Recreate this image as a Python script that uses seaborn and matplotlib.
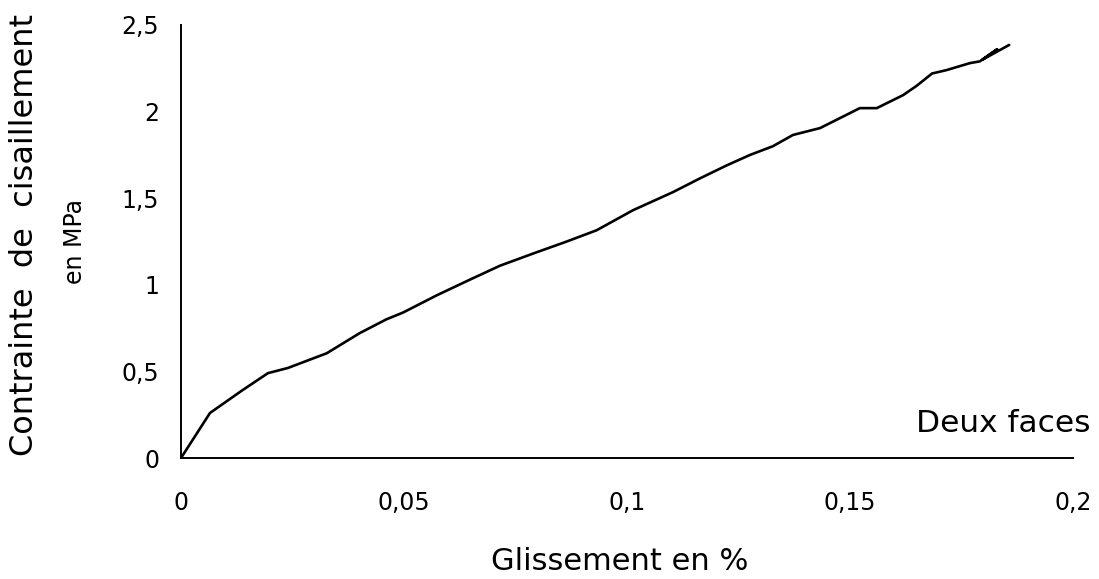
import matplotlib
matplotlib.use("Agg")
import matplotlib.pyplot as plt
import seaborn as sns
import pandas as pd

# Data
glissement = [0.0, 0.0065, 0.0137, 0.0195, 0.024, 0.0327, 0.040, 0.046, 0.0498,
              0.0574, 0.0648, 0.0715, 0.0789, 0.0865, 0.0932, 0.1013, 0.1103,
              0.1164, 0.1224, 0.1276, 0.1327, 0.1372, 0.1433, 0.1522, 0.156,
              0.1619, 0.165, 0.1684, 0.1717, 0.1769, 0.1791, 0.1830, 0.1797, 0.1857]
contrainte = [0.0, 0.26, 0.39, 0.49, 0.52, 0.605, 0.72, 0.80, 0.84,
              0.94, 1.03, 1.11, 1.18, 1.25, 1.315, 1.43, 1.535,
              1.615, 1.69, 1.75, 1.80, 1.865, 1.905, 2.02, 2.02,
              2.095, 2.15, 2.22, 2.24, 2.28, 2.29, 2.36, 2.30, 2.385]
x_ticks = [0, 0.05, 0.1, 0.15, 0.2]
x_labels = ["0", "0,05", "0,1", "0,15", "0,2"]
y_ticks = [0, 0.5, 1, 1.5, 2, 2.5]
y_labels = ["0", "0,5", "1", "1,5", "2", "2,5"]

sns.set_style("white")
plt.rcParams['font.family'] = ['DejaVu Sans']
plt.rcParams['text.color'] = 'black'

fig = plt.figure(figsize=(10.99, 5.79), dpi=100)
ax = fig.add_axes([181/1099, 1-458/579, (1073-181)/1099, (458-25)/579])

df = pd.DataFrame({"x": glissement, "y": contrainte})
sns.lineplot(data=df, x="x", y="y", sort=False, estimator=None, ax=ax,
             color="black", linewidth=1.9)

ax.set_xlim(0, 0.2)
ax.set_ylim(0, 2.5)
ax.set_xticks(x_ticks)
ax.set_xticklabels(x_labels)
ax.set_yticks(y_ticks)
ax.set_yticklabels(y_labels)
ax.set_xlabel("")
ax.set_ylabel("")
for s in ["top", "right"]:
    ax.spines[s].set_visible(False)
for s in ["left", "bottom"]:
    ax.spines[s].set_color("black")
    ax.spines[s].set_linewidth(1.4)
ax.tick_params(axis="both", direction="inout", length=9.5, width=1.3,
               colors="black", labelcolor="black", labelsize=17)
ax.tick_params(axis="x", pad=19)
ax.tick_params(axis="y", pad=11)

fig.text(620/1099, 1-562/579, "Glissement en %", fontsize=22,
         ha="center", va="center", color="black")
fig.text(1090/1099, 1-424/579, "Deux faces", fontsize=22.5,
         ha="right", va="center", color="black")
fig.text(25/1099, 1-235/579, "Contrainte  de  cisaillement", fontsize=23,
         rotation=90, ha="center", va="center", color="black")
fig.text(75/1099, 1-241/579, "en MPa", fontsize=17,
         rotation=90, ha="center", va="center", color="black")

fig.savefig("out.png", dpi=100, facecolor="white")
